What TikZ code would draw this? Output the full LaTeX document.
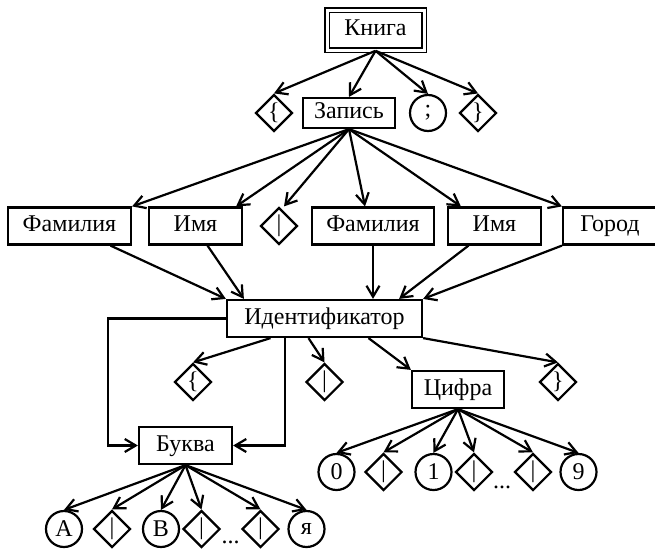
\documentclass[tikz,border=0pt]{standalone}
\usepackage{fontspec}
\setmainfont{Liberation Serif}
\usetikzlibrary{arrows.meta,shapes.geometric,calc}
\begin{document}
\begin{tikzpicture}[x=1pt,y=-1pt, line width=2.2pt,
 lbl/.style={font=\fontsize{24}{28}\selectfont},
 box/.style={lbl, draw, rectangle, minimum height=37pt, inner sep=0pt, text height=16pt, text depth=5pt},
 dia/.style={lbl, draw, diamond, minimum width=37pt, minimum height=37pt, inner sep=0pt},
 circ/.style={lbl, draw, circle, minimum size=36pt, inner sep=0pt},
 arr/.style={-{Straight Barb[length=11pt,width=13pt]}},
]
\useasboundingbox (0,0) rectangle (655,549);
% level 0
\node[box, double, double distance=3pt, line width=1.6pt, minimum width=97pt, minimum height=40pt] (kniga) at (375.5,30) {Книга};
% level 1
\node[dia] (lb) at (274,113) {\{};
\node[box, minimum width=92pt, minimum height=30pt] (zapis) at (349,113) {Запись};
\node[circ] (semi) at (428,113) {;};
\node[dia] (rb) at (478,113) {\}};
% level 2
\node[box, minimum width=123pt] (famil1) at (69.5,226) {Фамилия};
\node[box, minimum width=93pt] (imya1) at (195.5,226) {Имя};
\node[dia] (bar1) at (279,226) {|};
\node[box, minimum width=122pt] (famil2) at (373,226) {Фамилия};
\node[box, minimum width=93pt] (imya2) at (494.5,226) {Имя};
\node[box, minimum width=94pt] (gorod) at (610,226) {Город};
% level 3
\node[box, minimum width=195pt] (ident) at (324.5,318.5) {Идентификатор};
\node[dia] (d1) at (193,382) {\{};
\node[dia] (d2) at (324.5,382) {|};
\node[box, minimum width=92pt] (cifra) at (458,389.5) {Цифра};
\node[dia] (d3) at (558,382) {\}};
\node[box, minimum width=93pt] (bukva) at (185.5,445.5) {Буква};
% letters
\node[circ] (cA) at (64,529) {А};
\node[dia] (b1) at (112,529) {|};
\node[circ] (cB) at (161,529) {В};
\node[dia] (b2) at (201.5,529) {|};
\node[lbl, anchor=base] (dots1) at (230.5,543) {...};
\node[dia] (b3) at (260.5,529) {|};
\node[circ] (cya) at (306.5,529) {я};
% digits
\node[circ] (c0) at (336.5,472) {0};
\node[dia] (e1) at (383.5,472) {|};
\node[circ] (c1) at (433.5,472) {1};
\node[dia] (e2) at (474,472) {|};
\node[lbl, anchor=base] (dots2) at (502,488) {...};
\node[dia] (e3) at (533,472) {|};
\node[circ] (c9) at (578.5,472) {9};
% connectors level 0 -> 1
\foreach \t in {lb,zapis,semi,rb} \draw[arr] (kniga.south) -- (\t.north);
% level 1 -> 2
\draw[arr] (zapis.south) -- (famil1.north east);
\draw[arr] (zapis.south) -- ([xshift=-7pt]imya1.north east);
\draw[arr] (zapis.south) -- ([xshift=5pt]bar1.north);
\draw[arr] (zapis.south) -- ([xshift=-8pt]famil2.north);
\draw[arr] (zapis.south) -- ([xshift=14pt]imya2.north west);
\draw[arr] (zapis.south) -- (gorod.north west);
% level 2 -> ident
\draw[arr] ([xshift=41pt]famil1.south) -- (ident.north west);
\draw[arr] ([xshift=12pt]imya1.south) -- ([xshift=18pt]ident.north west);
\draw[arr] (famil2.south) -- (famil2.south |- ident.north);
\draw[arr] ([xshift=-26pt]imya2.south) -- ([xshift=-24pt]ident.north east);
\draw[arr] (gorod.south west) -- (ident.north east);
% ident -> children
\draw[arr] ([xshift=-54pt]ident.south) -- (d1.north);
\draw[arr] ([xshift=-16pt]ident.south) -- (d2.north);
\draw[arr] ([xshift=44pt]ident.south) -- (cifra.north west);
\draw[arr] (ident.south east) -- (d3.north);
\draw[arr] (ident.west) -| ([xshift=-30pt]bukva.west) -- (bukva.west);
\draw[arr] ([xshift=-39.5pt]ident.south) |- (bukva.east);
% bukva -> letters
\foreach \t in {cA,b1,cB,b2,b3,cya} \draw[arr] (bukva.south) -- (\t.north);
% cifra -> digits
\foreach \t in {c0,e1,c1,e2,e3,c9} \draw[arr] (cifra.south) -- (\t.north);
\end{tikzpicture}
\end{document}
